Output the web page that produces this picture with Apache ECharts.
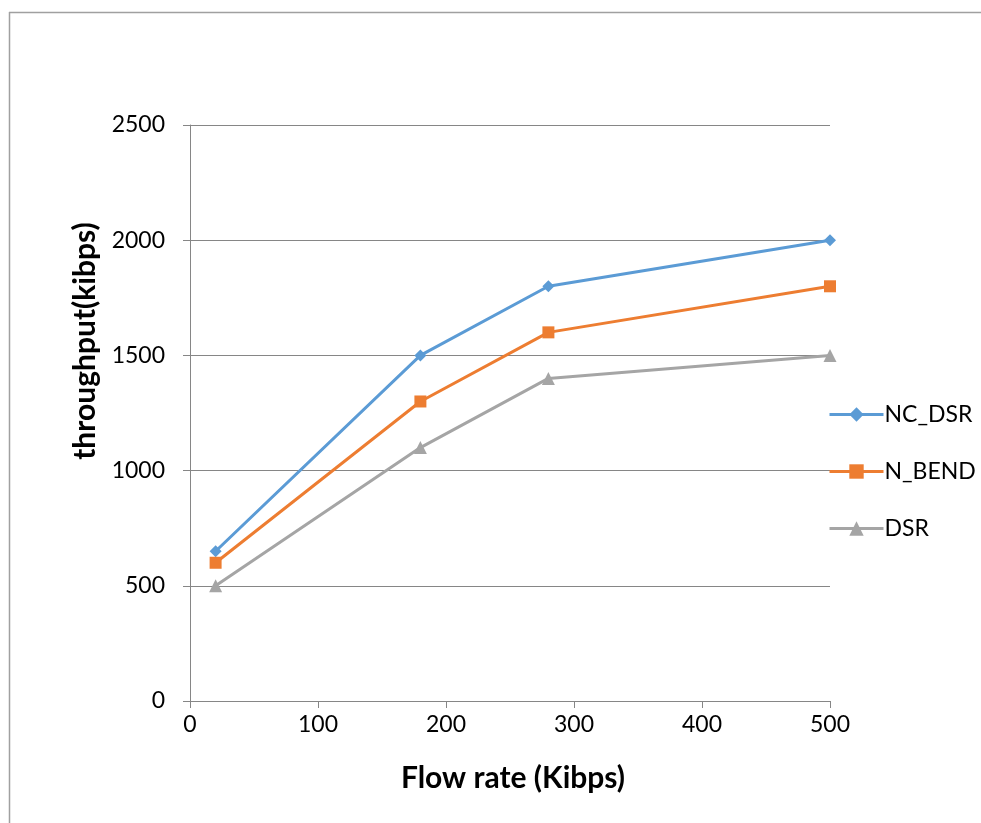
<!DOCTYPE html>
<html><head><meta charset="utf-8">
<script src="https://cdn.jsdelivr.net/npm/echarts@6/dist/echarts.min.js"></script>
<style>html,body{margin:0;padding:0;background:#fff}#c{width:981px;height:823px}</style>
</head><body><div id="c"></div>
<script>
const flowRate = [20, 180, 280, 500];
const ncDsr = [650, 1500, 1800, 2000];
const nBend = [600, 1300, 1600, 1800];
const dsr = [500, 1100, 1400, 1500];
const seriesNames = ['NC_DSR', 'N_BEND', 'DSR'];
const xTicks = [0, 100, 200, 300, 400, 500];
const yTicks = [0, 500, 1000, 1500, 2000, 2500];

const font = 'Lato, "Open Sans", sans-serif';
const chart = echarts.init(document.getElementById('c'), null, {renderer: 'canvas'});
const pair = (arr) => flowRate.map((x, i) => [x, arr[i]]);
chart.setOption({
  animation: false,
  backgroundColor: '#fff',
  graphic: [
    {type: 'line', shape: {x1: 9.5, y1: 12, x2: 9.5, y2: 823}, style: {stroke: '#a0a0a0', lineWidth: 1.5}},
    {type: 'line', shape: {x1: 9, y1: 12.5, x2: 981, y2: 12.5}, style: {stroke: '#a0a0a0', lineWidth: 1.5}}
  ],
  grid: {left: 190, right: 151, top: 125, bottom: 122, containLabel: false},
  legend: {
    orient: 'vertical', left: 828, top: 403, padding: 0, itemWidth: 54, itemHeight: 18, itemGap: 34,
    lineStyle: {width: 3},
    textStyle: {fontFamily: font, fontSize: 23, lineHeight: 23, color: '#000', padding: [0, 0, 0, -4]},
    data: seriesNames
  },
  xAxis: {
    type: 'value', min: xTicks[0], max: xTicks[xTicks.length - 1], interval: 100,
    name: 'Flow rate (Kibps)', nameLocation: 'middle', nameGap: 62,
    nameTextStyle: {fontFamily: font, fontSize: 30, fontWeight: 'bold', color: '#000', padding: [0, 0, 0, 6]},
    axisLine: {show: true, lineStyle: {color: '#868686', width: 1}},
    axisTick: {show: true, length: 7, lineStyle: {color: '#868686'}},
    axisLabel: {fontFamily: font, fontSize: 23, color: '#000', margin: 12},
    splitLine: {show: false}
  },
  yAxis: {
    type: 'value', min: yTicks[0], max: yTicks[yTicks.length - 1], interval: 500,
    name: 'throughput(kibps)', nameLocation: 'middle', nameGap: 88, nameRotate: 90,
    nameTextStyle: {fontFamily: font, fontSize: 30, fontWeight: 'bold', color: '#000', padding: [0, 0, 0, 144]},
    axisLine: {show: true, lineStyle: {color: '#868686', width: 1}},
    axisTick: {show: true, length: 7, lineStyle: {color: '#868686'}},
    axisLabel: {fontFamily: font, fontSize: 23, color: '#000', margin: 25, formatter: (v) => String(v)},
    splitLine: {show: true, lineStyle: {color: '#868686', width: 1}}
  },
  series: [
    {name: seriesNames[0], type: 'line', data: pair(ncDsr), symbol: 'diamond', symbolSize: 12,
     lineStyle: {width: 3, color: '#5B9BD5'}, itemStyle: {color: '#5B9BD5'}},
    {name: seriesNames[1], type: 'line', data: pair(nBend), symbol: 'rect', symbolSize: 12,
     lineStyle: {width: 3, color: '#ED7D31'}, itemStyle: {color: '#ED7D31'}},
    {name: seriesNames[2], type: 'line', data: pair(dsr), symbol: 'triangle', symbolSize: 13,
     lineStyle: {width: 3, color: '#A5A5A5'}, itemStyle: {color: '#A5A5A5'}}
  ]
});
</script></body></html>
